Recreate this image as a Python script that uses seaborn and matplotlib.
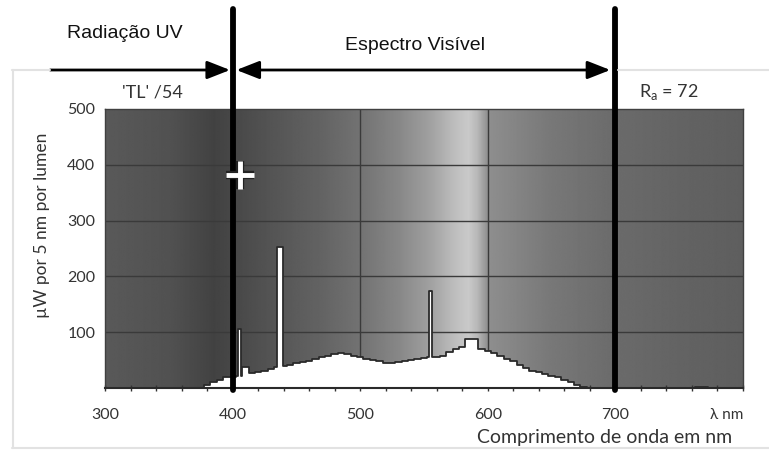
import numpy as np
import matplotlib
matplotlib.use("Agg")
import matplotlib.pyplot as plt
from matplotlib.lines import Line2D
import matplotlib.patheffects as pe
import seaborn as sns

# ---------------- data ----------------
# continuum of the lamp spectrum, 5 nm bins (bin centres, µW per 5 nm per lumen)
bin_nm = [380, 385, 390, 395, 400, 405, 410, 415, 420, 425, 430, 435, 440, 445,
          450, 455, 460, 465, 470, 475, 480, 485, 490, 495, 500, 505, 510, 515,
          520, 525, 530, 535, 540, 545, 550, 555, 560, 565, 570, 575, 580, 585,
          590, 595, 600, 605, 610, 615, 620, 625, 630, 635, 640, 645, 650, 655,
          660, 665, 670, 675, 680, 685, 690, 695, 700, 705, 710, 715, 720, 725,
          730, 735, 740, 745, 750, 755, 760, 765, 770, 775]
bin_uw = [6, 10, 15, 19, 20, 22, 37, 26, 29, 31, 34, 37, 40, 42,
          44, 46, 49, 52, 55, 58, 61, 63, 61, 58, 55, 52, 50, 48,
          45, 45, 46, 49, 50, 52, 53, 55, 56, 58, 64, 70, 74, 87,
          87, 70, 67, 62, 58, 52, 48, 42, 36, 31, 28, 25, 22, 19,
          15, 10, 6, 2, 0, 0, 0, 0, 0, 0, 0, 0, 0, 0,
          0, 0, 0, 0, 0, 0, 0, 2, 2, 0]

# mercury emission lines
line_nm = [405.5, 437.3, 555.0]
line_uw = [105, 252, 173]
line_w = [2.8, 4.6, 2.8]

# background colour band (grey level along wavelength)
bg_nm = [300, 350, 385, 400, 430, 470, 500, 530, 555, 575, 585, 592, 600, 650, 700, 750, 800]
bg_gray = [0.35, 0.32, 0.26, 0.28, 0.33, 0.39, 0.45, 0.53, 0.63, 0.75, 0.79, 0.72, 0.56, 0.47, 0.42, 0.39, 0.37]

x_ticks = [300, 400, 500, 600, 700, 800]
x_ticklabels = ["300", "400", "500", "600", "700", "λ nm"]
y_ticks = [100, 200, 300, 400, 500]
uv_limit = 400
vis_limit = 700

# ---------------- build step outline ----------------
cont_left = np.array(bin_nm) - 2.5
cont_right = np.array(bin_nm) + 2.5
bps = set(cont_left.tolist()) | set(cont_right.tolist())
for c, w in zip(line_nm, line_w):
    bps |= {c - w / 2, c + w / 2}
bps = np.array(sorted(bps))
mids = (bps[:-1] + bps[1:]) / 2
vals = []
for m in mids:
    v = 0.0
    i = np.where((cont_left <= m) & (m < cont_right))[0]
    if len(i):
        v = bin_uw[i[0]]
    for c, w, h in zip(line_nm, line_w, line_uw):
        if abs(m - c) < w / 2:
            v = h
    vals.append(v)
xs = np.concatenate([[bps[0]], bps, [bps[-1]]])
ys = np.concatenate([[0], vals, [vals[-1]], [0]]).astype(float)[:len(xs)]
ys[-1] = 0

# ---------------- figure ----------------
sns.set_style("white")
plt.rcParams["font.family"] = ["Lato", "DejaVu Sans"]

W, H = 769, 450
fig = plt.figure(figsize=(W / 100, H / 100), dpi=100)
ax = fig.add_axes([105 / W, 1 - 388 / H, (743 - 105) / W, (388 - 109) / H])

# background gradient
gx = np.linspace(300, 800, 1000)
grad = np.interp(gx, bg_nm, bg_gray)[None, :]
ax.imshow(grad, extent=[300, 800, 0, 500], aspect="auto", cmap="gray",
          vmin=0, vmax=1, zorder=0, interpolation="bilinear")

ax.set_xlim(300, 800)
ax.set_ylim(0, 500)

# grid
for gxv in [400, 500, 600, 700]:
    ax.axvline(gxv, color="#3a3a3a", lw=1.0, zorder=1)
for gyv in [100, 200, 300, 400]:
    ax.axhline(gyv, color="#3a3a3a", lw=1.0, zorder=1)

# spectrum
ax.fill_between(xs, ys, step="post", color="white", lw=0, zorder=2)
sns.lineplot(x=xs, y=ys, drawstyle="steps-post", color="#2a2a2a", lw=1.3,
             estimator=None, sort=False, ax=ax, zorder=3)

# ticks
ax.set_xticks(x_ticks)
ax.set_xticklabels(x_ticklabels)
ax.set_xticks(np.arange(300, 801, 20), minor=True)
ax.set_yticks(y_ticks)
ax.tick_params(axis="x", which="both", direction="inout", length=5, width=1,
               color="#333333", pad=12, labelsize=11.5, labelcolor="#333333", bottom=True)
ax.tick_params(axis="y", length=0, pad=7, labelsize=11.5, labelcolor="#333333", left=True)
lbls = ax.get_xticklabels()
lbls[-1].set_ha("right")
lbls[-1].set_fontsize(11)

for s in ["top", "right", "left"]:
    ax.spines[s].set_color("#404040")
    ax.spines[s].set_linewidth(1.0)
ax.spines["bottom"].set_color("#2a2a2a")
ax.spines["bottom"].set_linewidth(1.5)

ax.set_xlabel("")
ax.set_ylabel("")

# labels
fig.text(605 / W, 1 - 437 / H, "Comprimento de onda em nm", ha="center", va="center",
         fontsize=14, color="#333333")
fig.text(42 / W, 1 - 225 / H, "µW por 5 nm por lumen", ha="center", va="center",
         rotation=90, fontsize=12.5, color="#333333")
fig.text(152 / W, 1 - 92 / H, "'TL' /54", ha="center", va="center", fontsize=13,
         color="#333333")
fig.text(669 / W, 1 - 92 / H, r"R$_{\mathregular{a}}$ = 72", ha="center", va="center",
         fontsize=13, color="#333333")
fig.text(125 / W, 1 - 34 / H, "Radiação UV", ha="center", va="center", fontsize=14,
         family=["Liberation Sans", "DejaVu Sans"], color="#111111")
fig.text(415 / W, 1 - 45 / H, "Espectro Visível", ha="center", va="center", fontsize=14,
         family=["Liberation Sans", "DejaVu Sans"], color="#111111")

# outer light frame
fc = "#e2e2e2"
fig.add_artist(Line2D([12 / W, 50 / W], [1 - 70 / H] * 2, color=fc, lw=1.5))
fig.add_artist(Line2D([618 / W, 1.0], [1 - 70 / H] * 2, color=fc, lw=1.5))
fig.add_artist(Line2D([12.5 / W] * 2, [1 - 70 / H, 1 - 448 / H], color=fc, lw=1.5))
fig.add_artist(Line2D([12 / W, 1.0], [1 - 448 / H] * 2, color=fc, lw=1.5))

# thick boundary lines
ytop = (388 - 9) / (388 - 109)
for v in [uv_limit, vis_limit]:
    ax.axvline(v, ymin=-0.008, ymax=ytop, color="black", lw=4.2, clip_on=False, zorder=6)

# arrows
arr_y = (388 - 70) / (388 - 109) * 500
ax.annotate("", xy=(uv_limit - 2, arr_y), xytext=(257, arr_y),
            arrowprops=dict(arrowstyle="-|>,head_length=1.4,head_width=0.55",
                            color="black", lw=2, shrinkA=0, shrinkB=0, mutation_scale=10),
            annotation_clip=False, zorder=7)
ax.annotate("", xy=(vis_limit - 4, arr_y), xytext=(uv_limit + 3, arr_y),
            arrowprops=dict(arrowstyle="<|-|>,head_length=1.4,head_width=0.55",
                            color="black", lw=2, shrinkA=0, shrinkB=0, mutation_scale=10),
            annotation_clip=False, zorder=7)

# mouse cursor present in the screenshot
cursor_xy = (406, 382)
ax.plot([cursor_xy[0]], [cursor_xy[1]], marker="+", ms=20, mew=3.5, color="white",
        zorder=8, clip_on=False,
        path_effects=[pe.Stroke(linewidth=6, foreground="#222222"), pe.Normal()])

fig.savefig("out.png", dpi=100)
